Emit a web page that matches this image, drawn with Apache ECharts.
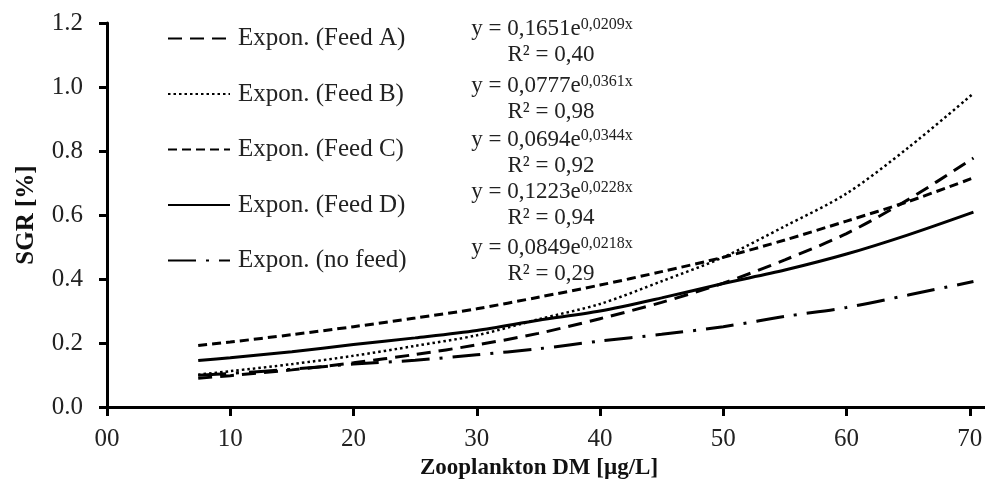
<!DOCTYPE html>
<html lang="en">
<head>
    <meta charset="UTF-8">
    <title>SGR vs Zooplankton DM</title>
    <script src="https://cdn.jsdelivr.net/npm/echarts@6/dist/echarts.min.js"></script>
    <style>
        body { margin: 0; padding: 0; background: #fff; }
        #chart { width: 985px; height: 483px; }
    </style>
</head>
<body>
<div id="chart"></div>
<script>
    // values
    const xValues = [7.4, 10, 15, 20, 25, 30, 35, 40, 45, 50, 55, 60, 65, 70.3];
    const feedA = [0.090, 0.098, 0.116, 0.138, 0.164, 0.194, 0.230, 0.276, 0.327, 0.387, 0.460, 0.542, 0.648, 0.778];
    const feedB = [0.101, 0.112, 0.134, 0.160, 0.191, 0.224, 0.274, 0.322, 0.393, 0.468, 0.565, 0.667, 0.810, 0.980];
    const feedC = [0.192, 0.203, 0.226, 0.251, 0.278, 0.307, 0.343, 0.381, 0.423, 0.468, 0.522, 0.581, 0.642, 0.716];
    const feedD = [0.145, 0.154, 0.173, 0.195, 0.216, 0.239, 0.271, 0.300, 0.341, 0.386, 0.428, 0.478, 0.538, 0.609];
    const noFeed = [0.099, 0.105, 0.118, 0.134, 0.146, 0.163, 0.182, 0.206, 0.227, 0.251, 0.283, 0.311, 0.350, 0.392];

    const seriesNames = ['Expon. (Feed A)', 'Expon. (Feed B)', 'Expon. (Feed C)', 'Expon. (Feed D)', 'Expon. (no feed)'];
    const eqCoef = ['0,1651', '0,0777', '0,0694', '0,1223', '0,0849'];
    const eqExp = ['0,0209x', '0,0361x', '0,0344x', '0,0228x', '0,0218x'];
    const rSquared = ['0,40', '0,98', '0,92', '0,94', '0,29'];

    const font = 'Liberation Serif, Times New Roman, serif';
    const chart = echarts.init(document.getElementById('chart'));

    function pairs(ys) {
        return xValues.map((x, i) => [x, ys[i]]);
    }

    function makeLine(name, ys, dash, width) {
        return {
            name: name,
            type: 'line',
            data: pairs(ys),
            smooth: 0.3,
            symbol: 'none',
            color: '#000',
            lineStyle: { color: '#000', width: width, type: dash }
        };
    }

    // equation labels to the right of the legend
    const eqRows = [29, 86, 140, 192, 248];
    const eqGraphics = [];
    eqRows.forEach((y, i) => {
        eqGraphics.push({
            type: 'text',
            x: 552,
            y: y,
            style: {
                text: '{n|y = ' + eqCoef[i] + 'e}{s|' + eqExp[i] + '}',
                textAlign: 'center',
                textVerticalAlign: 'middle',
                rich: {
                    n: { fontFamily: font, fontSize: 23, fill: '#222', lineHeight: 24 },
                    s: { fontFamily: font, fontSize: 16, fill: '#222', verticalAlign: 'top', lineHeight: 24 }
                }
            }
        });
        eqGraphics.push({
            type: 'text',
            x: 551,
            y: y + 26,
            style: {
                text: 'R² = ' + rSquared[i],
                textAlign: 'center',
                textVerticalAlign: 'middle',
                fontFamily: font, fontSize: 23, fill: '#222'
            }
        });
    });

    const option = {
        animation: false,
        backgroundColor: '#fff',
        grid: { left: 107, right: -108, top: 23, bottom: 76, outerBoundsMode: 'none', containLabel: false },
        legend: {
            orient: 'vertical',
            left: 167,
            top: 26,
            padding: 0,
            itemWidth: 62,
            itemHeight: 24,
            itemGap: 30.5,
            itemStyle: { opacity: 0 },
            textStyle: { fontFamily: font, fontSize: 25, color: '#222', padding: [0, 0, 0, 3] },
            data: seriesNames
        },
        xAxis: {
            type: 'value',
            min: 0,
            max: 80,
            interval: 10,
            name: 'Zooplankton DM [µg/L]',
            nameLocation: 'middle',
            nameGap: 48,
            nameTextStyle: { fontFamily: font, fontWeight: 'bold', fontSize: 23, color: '#111', padding: [0, 122, 0, 0] },
            axisLine: { lineStyle: { color: '#000', width: 3 } },
            axisTick: { length: 9, lineStyle: { color: '#000', width: 3 } },
            axisLabel: {
                fontFamily: font, fontSize: 25, color: '#222', margin: 20,
                formatter: v => (v === 0 ? '00' : String(v))
            },
            splitLine: { show: false }
        },
        yAxis: {
            type: 'value',
            min: 0,
            max: 1.2,
            interval: 0.2,
            name: 'SGR [%]',
            nameLocation: 'middle',
            nameGap: 68,
            nameTextStyle: { fontFamily: font, fontWeight: 'bold', fontSize: 25, color: '#111' },
            axisLine: { show: true, lineStyle: { color: '#000', width: 3 } },
            axisTick: { show: true, length: 8, lineStyle: { color: '#000', width: 3 } },
            axisLabel: {
                fontFamily: font, fontSize: 25, color: '#222', margin: 24,
                formatter: v => v.toFixed(1)
            },
            splitLine: { show: false }
        },
        graphic: eqGraphics,
        series: [
            makeLine(seriesNames[0], feedA, [14, 8], 3),
            makeLine(seriesNames[1], feedB, [2.5, 3], 2.5),
            makeLine(seriesNames[2], feedC, [9, 5], 3),
            makeLine(seriesNames[3], feedD, 'solid', 3),
            makeLine(seriesNames[4], noFeed, [28, 10, 3, 10], 3)
        ]
    };

    chart.setOption(option);
</script>
</body>
</html>
